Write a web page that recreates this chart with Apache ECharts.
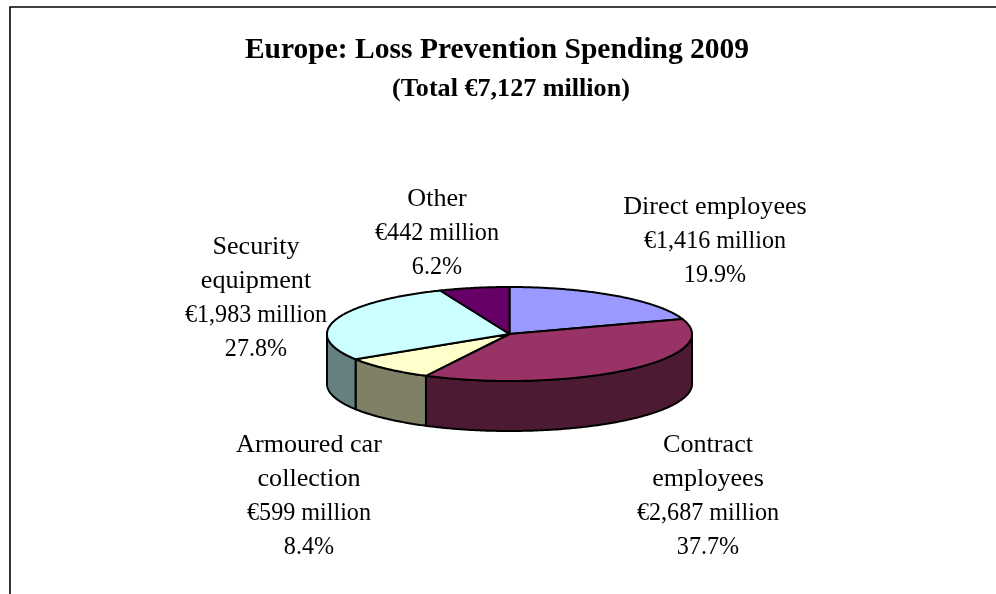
<!DOCTYPE html>
<html>
<head>
<meta charset="utf-8">
<title>Europe: Loss Prevention Spending 2009</title>
<script src="https://cdn.jsdelivr.net/npm/echarts@6/dist/echarts.min.js"></script>
<style>
  html, body { margin: 0; padding: 0; background: #fff; }
  #chart { width: 996px; height: 594px; }
</style>
</head>
<body>
<div id="chart"></div>
<script>
// Spending by category, in millions of euros, clockwise from twelve o'clock
const categories = ['Direct employees', 'Contract employees', 'Armoured car collection', 'Security equipment', 'Other'];
const labelNames = [['Direct employees'], ['Contract', 'employees'], ['Armoured car', 'collection'], ['Security', 'equipment'], ['Other']];
const spending = [1416, 2687, 599, 1983, 442];
const titleText = 'Europe: Loss Prevention Spending 2009';
const subtitleText = '(Total €7,127 million)';

// Drawing styles
const topColors = ['#9999FF', '#993366', '#FFFFCC', '#CCFFFF', '#660066'];
const wallColors = ['#4D4D80', '#4D1A33', '#808066', '#668080', '#330033'];
const FONT = '"Liberation Serif", "Times New Roman", serif';
const LABEL_SIZE = 25;
const WORD_STRETCH = 1.045; // words are set a little wider than the figures
const FIGURE_STRETCH = 0.965;

// Pie geometry: tilted disc seen from above
const pie = { cx: 509.5, cy: 334, rx: 182.5, ry: 47, depth: 50 };
const labelAnchors = [[715, 207], [708, 445], [309, 445], [256, 247], [437, 199]];
const LABEL_LINE = 34;

const total = spending.reduce((a, b) => a + b, 0);
const starts = [];
spending.reduce((sum, v, i) => { starts[i] = sum; return sum + v; }, 0);

const angleOf = v => v / total * Math.PI * 2;
const rimPoint = (a, dy) => [pie.cx + pie.rx * Math.sin(a), pie.cy - pie.ry * Math.cos(a) + (dy || 0)];

function arcPoints(a0, a1, dy) {
  const n = Math.max(2, Math.ceil((a1 - a0) / 0.01));
  const pts = [];
  for (let k = 0; k <= n; k++) pts.push(rimPoint(a0 + (a1 - a0) * k / n, dy));
  return pts;
}

const outline = { stroke: '#000', lineWidth: 2, lineJoin: 'round' };

// Outer wall: only the part of a slice that faces the viewer is visible
function renderWall(params, api) {
  const i = params.dataIndex;
  const a0 = Math.max(angleOf(starts[i]), Math.PI / 2);
  const a1 = Math.min(angleOf(starts[i] + api.value(0)), Math.PI * 1.5);
  if (a1 <= a0) return null;
  const points = arcPoints(a0, a1, 0).concat(arcPoints(a0, a1, pie.depth).reverse());
  return { type: 'polygon', shape: { points }, style: Object.assign({ fill: wallColors[i] }, outline) };
}

// Top face of a slice
function renderTop(params, api) {
  const i = params.dataIndex;
  const a0 = angleOf(starts[i]);
  const a1 = angleOf(starts[i] + api.value(0));
  const points = [[pie.cx, pie.cy]].concat(arcPoints(a0, a1, 0));
  return { type: 'polygon', shape: { points }, style: Object.assign({ fill: topColors[i] }, outline) };
}

// Category, amount and share stacked as centred lines
function renderLabel(params, api) {
  const i = params.dataIndex;
  const v = api.value(0);
  const amount = '€' + v.toLocaleString('en-US') + ' million';
  const share = (v / total * 100).toFixed(1) + '%';
  const names = labelNames[i];
  const lines = names.concat([amount, share]);
  return {
    type: 'group',
    children: lines.map((line, k) => ({
      type: 'text',
      x: labelAnchors[i][0],
      y: labelAnchors[i][1] + k * LABEL_LINE,
      scaleX: k < names.length ? WORD_STRETCH : FIGURE_STRETCH,
      style: {
        text: line,
        fill: '#000',
        font: LABEL_SIZE + 'px ' + FONT,
        align: 'center',
        verticalAlign: 'middle'
      }
    }))
  };
}

const headingStyle = (text, size) => ({
  text, fill: '#000', font: 'bold ' + size + 'px ' + FONT, align: 'center', verticalAlign: 'middle'
});

const seriesData = spending.map((v, i) => ({ name: categories[i], value: v }));
const chart = echarts.init(document.getElementById('chart'), null, { renderer: 'canvas' });

chart.setOption({
  animation: false,
  backgroundColor: '#fff',
  graphic: [
    { type: 'polyline', silent: true,
      shape: { points: [[10, 594], [10, 7], [996, 7]] },
      style: { stroke: '#000', lineWidth: 1.6, fill: null } },
    { type: 'text', silent: true, x: 497, y: 51, scaleX: 1.036, style: headingStyle(titleText, 28.5) },
    { type: 'text', silent: true, x: 511, y: 89.5, scaleX: 1.045, style: headingStyle(subtitleText, 25) }
  ],
  series: [
    { type: 'custom', coordinateSystem: 'none', renderItem: renderWall, data: seriesData, z: 2, silent: true },
    { type: 'custom', coordinateSystem: 'none', renderItem: renderTop, data: seriesData, z: 3, silent: true },
    { type: 'custom', coordinateSystem: 'none', renderItem: renderLabel, data: seriesData, z: 4, silent: true }
  ]
});
</script>
</body>
</html>
